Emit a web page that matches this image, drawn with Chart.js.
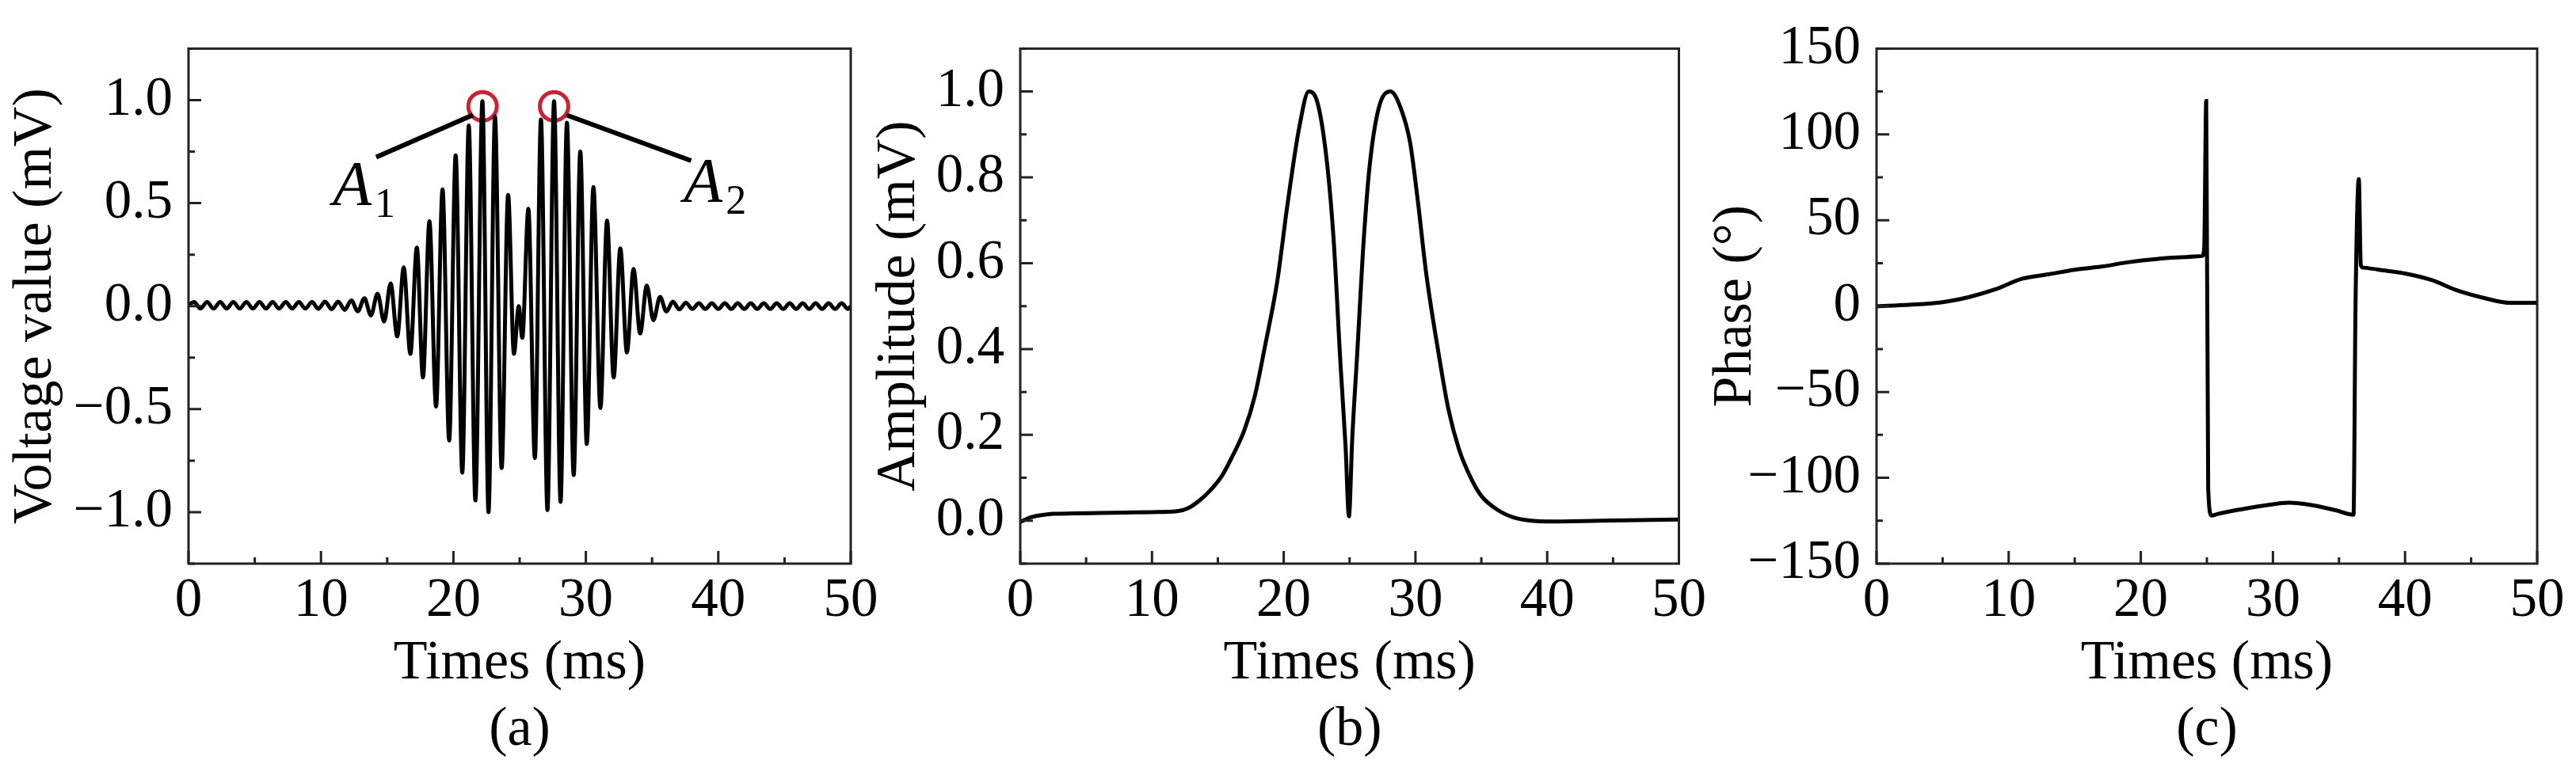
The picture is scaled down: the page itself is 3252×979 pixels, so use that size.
<!DOCTYPE html>
<html lang="en">
<head>
<meta charset="UTF-8">
<title>Voltage, amplitude and phase</title>
<script src="https://cdn.jsdelivr.net/npm/chart.js@4.4.1/dist/chart.umd.min.js"></script>
<style>
  body { margin: 0; background: #fff; width: 3252px; height: 979px; overflow: hidden; position: relative; }
  canvas { position: absolute; top: 0; }
</style>
</head>
<body>
<canvas id="chartA" width="1130" height="979" style="left:0px;width:1130px;height:979px"></canvas>
<canvas id="chartB" width="1066" height="979" style="left:1094px;width:1066px;height:979px"></canvas>
<canvas id="chartC" width="1102" height="979" style="left:2150px;width:1102px;height:979px"></canvas>
<script>
// ---- data ----
const xTicks = [0, 10, 20, 30, 40, 50];
const xLabels = ['0', '10', '20', '30', '40', '50'];

// (a) voltage waveform, extrema of each half cycle
const timesA = [0.00, 0.41, 0.90, 1.40, 1.89, 2.39, 2.88, 3.38, 3.87, 4.37, 4.86, 5.36, 5.85, 6.35, 6.84, 7.34, 7.83, 8.33, 8.82, 9.32,
  9.81, 10.31, 10.80, 11.30, 11.79, 12.29, 12.78, 13.28, 13.77, 14.27, 14.77, 15.26, 15.76, 16.25, 16.75, 17.24, 17.70, 18.19, 18.69, 19.18,
  19.68, 20.17, 20.67, 21.16, 21.66, 22.19, 22.65, 23.14, 23.64, 24.13, 24.57, 24.93, 25.20, 25.66, 26.15, 26.61, 27.10, 27.60, 28.09, 28.57,
  29.08, 29.58, 30.07, 30.57, 31.10, 31.60, 32.10, 32.60, 33.10, 33.60, 34.10, 34.60, 35.10, 35.60, 36.08, 36.57, 37.06, 37.55, 38.04, 38.53,
  39.02, 39.51, 40.00, 40.49, 40.98, 41.47, 41.96, 42.45, 42.94, 43.43, 43.92, 44.41, 44.90, 45.39, 45.88, 46.37, 46.86, 47.35, 47.84, 48.33,
  48.82, 49.31, 49.80, 50.00];
const voltsA = [0.005, 0.02, -0.012, 0.02, -0.012, 0.02, -0.012, 0.02, -0.012, 0.02, -0.012, 0.02, -0.012, 0.02, -0.012, 0.02, -0.012, 0.02, -0.012, 0.02,
  -0.013, 0.022, -0.015, 0.022, -0.018, 0.028, -0.025, 0.038, -0.045, 0.06, -0.075, 0.11, -0.147, 0.188, -0.232, 0.284, -0.346, 0.412, -0.488, 0.567,
  -0.652, 0.732, -0.808, 0.877, -0.943, 0.995, -1.0, 0.92, -0.786, 0.54, -0.232, 0.0, -0.154, 0.472, -0.737, 0.906, -0.99, 0.995, -0.95, 0.89,
  -0.82, 0.75, -0.67, 0.578, -0.495, 0.415, -0.346, 0.28, -0.225, 0.18, -0.133, 0.10, -0.068, 0.045, -0.026, 0.022, -0.016, 0.016, -0.014, 0.014,
  -0.014, 0.014, -0.014, 0.014, -0.014, 0.014, -0.014, 0.014, -0.014, 0.014, -0.014, 0.014, -0.014, 0.014, -0.014, 0.014, -0.014, 0.014, -0.014, 0.014,
  -0.014, 0.014, -0.014, 0.0];
const yTicksA = [-1, -0.5, 0, 0.5, 1];
const yLabelsA = ['\u22121.0', '\u22120.5', '0.0', '0.5', '1.0'];

// annotations of (a)
const peakT = [22.2, 27.6];
const peakV = [0.97, 0.97];
const leader1T = [14.17, 21.47], leader1V = [0.723, 0.928];
const leader2T = [28.53, 37.95], leader2V = [0.928, 0.706];
const peakNames = ['A', 'A'];
const peakSubs = ['1', '2'];
const nameT = [10.9, 37.4];
const nameV = [0.49, 0.505];

// (b) amplitude envelope
const timesB = [0, 0.8, 1.6, 2.5, 4, 6, 8, 10, 11.9, 12.8, 13.6, 14.4, 15.3, 16.1, 17.0, 17.8, 18.6, 19.5, 20.3, 21.2,
  21.9, 22.6, 23.3, 23.8, 24.3, 24.7, 24.95, 25.2, 25.6, 26.0, 26.5, 27.2, 28.1, 28.9, 29.6, 30.2, 30.8, 31.7, 32.5, 33.3,
  34.2, 35.0, 36.3, 37.5, 38.8, 40, 44, 50];
const ampB = [-0.003, 0.008, 0.013, 0.016, 0.017, 0.018, 0.019, 0.02, 0.022, 0.03, 0.047, 0.07, 0.104, 0.15, 0.21, 0.29, 0.41, 0.556, 0.74, 0.92,
  1.0, 0.97, 0.83, 0.65, 0.37, 0.17, 0.01, 0.19, 0.4, 0.62, 0.82, 0.96, 1.0, 0.96, 0.88, 0.74, 0.58, 0.40, 0.26, 0.167,
  0.10, 0.058, 0.024, 0.007, 0.0, -0.002, 0.0, 0.003];
const yTicksB = [0, 0.2, 0.4, 0.6, 0.8, 1.0];
const yLabelsB = ['0.0', '0.2', '0.4', '0.6', '0.8', '1.0'];

// (c) phase
const timesC = [0, 2.5, 5, 7, 9, 11, 13, 15, 17, 19, 21, 23, 24.65, 24.8, 24.95, 25.1, 25.35, 25.84, 27.5, 29.5,
  31.2, 33, 34.8, 36.1, 36.25, 36.5, 36.65, 36.85, 38.5, 40, 42, 44, 46, 48, 50];
const phaseC = [0, 0.8, 2.3, 5.3, 9.8, 15.9, 18.5, 21.2, 23.0, 25.5, 27.3, 28.5, 29.2, 34, 119.5, -106, -122, -121, -118.5, -116,
  -114.5, -116, -119, -121.5, 0, 74, 24, 22.4, 20.7, 19, 15.2, 9, 4.7, 1.9, 1.9];
const yTicksC = [-150, -100, -50, 0, 50, 100, 150];
const yLabelsC = ['\u2212150', '\u2212100', '\u221250', '0', '50', '100', '150'];

// ---- drawing ----
const serif = '"Liberation Serif", "Times New Roman", serif';
const tickFont = { family: serif, size: 69 };
const titleFont = { family: serif, size: 70, lineHeight: 1.2 };

function pts(xs, ys) {
  return xs.map((x, i) => ({ x: x, y: ys[i] }));
}

function minorOf(major, min, max) {
  const step = major[1] - major[0];
  const out = [];
  for (let v = major[0] - step / 2; v <= max + 1e-9; v += step) {
    if (v >= min - 1e-9) out.push(v);
  }
  return out;
}

// frame round the plot and inward ticks on left and bottom
const frameTicks = {
  id: 'frameTicks',
  afterDatasetsDraw(chart, args, opts) {
    const { ctx, chartArea: a, scales } = chart;
    const x = scales.x, y = scales.y;
    ctx.save();
    ctx.strokeStyle = '#222';
    ctx.lineWidth = 3;
    ctx.lineCap = 'butt';
    ctx.beginPath();
    const mark = (vals, len) => {
      vals.forEach(v => {
        const px = x.getPixelForValue(v);
        ctx.moveTo(px, a.bottom);
        ctx.lineTo(px, a.bottom - len);
      });
    };
    const markY = (vals, len) => {
      vals.forEach(v => {
        const py = y.getPixelForValue(v);
        ctx.moveTo(a.left, py);
        ctx.lineTo(a.left + len, py);
      });
    };
    mark(opts.xMajor, 16);
    mark(minorOf(opts.xMajor, x.min, x.max), 8);
    markY(opts.yMajor, 16);
    markY(minorOf(opts.yMajor, y.min, y.max), 8);
    ctx.stroke();
    ctx.strokeRect(a.left, a.top, a.right - a.left, a.bottom - a.top);
    ctx.restore();
  }
};

// A1 / A2 labels
const peakLabels = {
  id: 'peakLabels',
  afterDatasetsDraw(chart, args, opts) {
    if (!opts.show) return;
    const { ctx, scales: { x, y } } = chart;
    ctx.save();
    ctx.fillStyle = '#000';
    ctx.textBaseline = 'alphabetic';
    ctx.textAlign = 'left';
    peakNames.forEach((n, i) => {
      const px = x.getPixelForValue(nameT[i]);
      const py = y.getPixelForValue(nameV[i]);
      ctx.font = 'italic 80px ' + serif;
      ctx.fillText(n, px, py);
      const w = ctx.measureText(n).width;
      ctx.font = '52px ' + serif;
      ctx.fillText(peakSubs[i], px + w + 4, py + 15);
    });
    ctx.restore();
  }
};

function makePanel(id, cfg) {
  return new Chart(document.getElementById(id), {
    type: 'line',
    data: { datasets: cfg.datasets },
    options: {
      responsive: false,
      devicePixelRatio: 1,
      animation: false,
      layout: { autoPadding: false, padding: { top: 52, left: 0, right: cfg.right, bottom: 0 } },
      plugins: {
        legend: { display: false },
        tooltip: { enabled: false },
        frameTicks: { xMajor: xTicks, yMajor: cfg.yTicks },
        peakLabels: { show: !!cfg.labels }
      },
      scales: {
        x: {
          type: 'linear', min: 0, max: 50,
          afterBuildTicks: s => { s.ticks = xTicks.map(v => ({ value: v })); },
          afterFit: s => { s.height = 267; },
          grid: { display: false, drawTicks: false },
          border: { display: false },
          ticks: { padding: 6, maxRotation: 0, autoSkip: false, color: '#000', font: tickFont,
            callback: (v, i) => xLabels[i] },
          title: { display: true, text: ['Times (ms)', cfg.tag], color: '#000', font: titleFont,
            padding: { top: 0, bottom: 14 } }
        },
        y: {
          type: 'linear', min: cfg.yMin, max: cfg.yMax,
          afterBuildTicks: s => { s.ticks = cfg.yTicks.map(v => ({ value: v })); },
          afterFit: s => { s.width = cfg.yWidth; },
          grid: { display: false, drawTicks: false },
          border: { display: false },
          ticks: { padding: 20, autoSkip: false, color: '#000', font: tickFont,
            callback: (v, i) => cfg.yLabels[i] },
          title: { display: true, text: cfg.yTitle, color: '#000', font: titleFont,
            padding: { top: cfg.titlePad, bottom: 0 } }
        }
      }
    },
    plugins: [frameTicks, peakLabels]
  });
}

const curve = (data, width) => ({
  data: data, borderColor: '#000', borderWidth: width, pointRadius: 0,
  cubicInterpolationMode: 'monotone', fill: false
});

makePanel('chartA', {
  tag: '(a)', yTitle: 'Voltage value (mV)', yMin: -1.25, yMax: 1.25,
  yTicks: yTicksA, yLabels: yLabelsA, yWidth: 238, titlePad: 4, right: 56, labels: true,
  datasets: [
    curve(pts(timesA, voltsA), 5),
    { data: pts(leader1T, leader1V), borderColor: '#000', borderWidth: 6, pointRadius: 0, tension: 0 },
    { data: pts(leader2T, leader2V), borderColor: '#000', borderWidth: 6, pointRadius: 0, tension: 0 },
    { data: pts(peakT, peakV), showLine: false, pointStyle: 'circle', pointRadius: 18,
      pointBorderWidth: 5, pointBorderColor: '#cf1f30', pointBackgroundColor: 'rgba(0,0,0,0)' }
  ]
});

makePanel('chartB', {
  tag: '(b)', yTitle: 'Amplitude (mV)', yMin: -0.1, yMax: 1.1,
  yTicks: yTicksB, yLabels: yLabelsB, yWidth: 194, titlePad: 0, right: 37,
  datasets: [curve(pts(timesB, ampB), 5)]
});

makePanel('chartC', {
  tag: '(c)', yTitle: 'Phase (\u00b0)', yMin: -150, yMax: 150,
  yTicks: yTicksC, yLabels: yLabelsC, yWidth: 219, titlePad: 0, right: 49,
  datasets: [curve(pts(timesC, phaseC), 5)]
});
</script>
</body>
</html>
